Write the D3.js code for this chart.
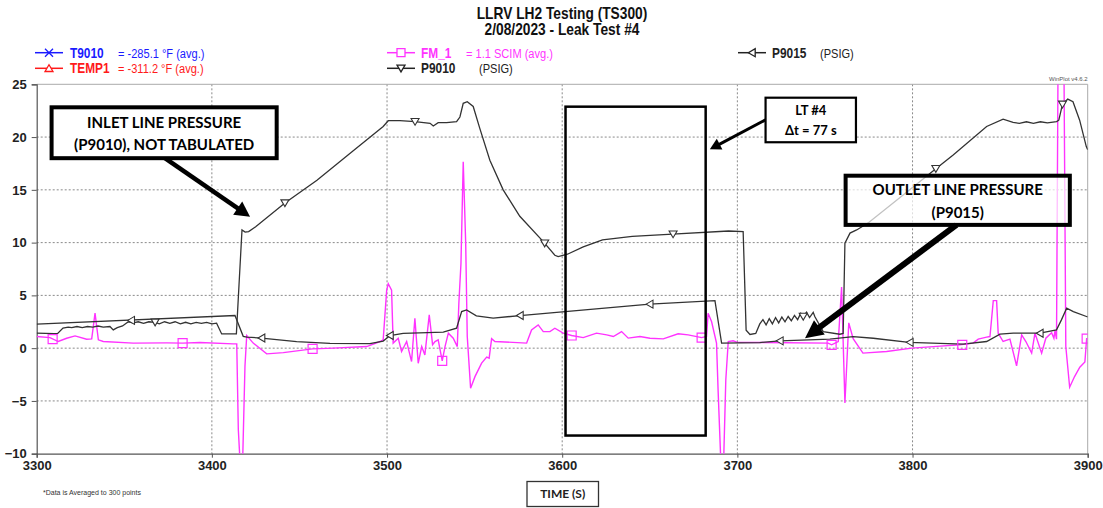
<!DOCTYPE html>
<html><head><meta charset="utf-8">
<script src="https://cdn.jsdelivr.net/npm/d3@7"></script>
<style>
body{margin:0;background:#fff;}
svg{display:block;}
.narrow{font-family:"Liberation Sans",Arial,sans-serif;}
.tick text{font-family:"Liberation Sans",Arial,sans-serif;font-weight:bold;font-size:13px;fill:#222;}
.box text{font-family:Lato,"Open Sans",sans-serif;font-weight:bold;}
</style></head>
<body>
<script>
// ---------- DATA ----------
const xTicks = [3300,3400,3500,3600,3700,3800,3900];
const yTicks = [-10,-5,0,5,10,15,20,25];

// P9010 inlet pressure [time s, psig]
const p9010 = [[3300,1.42],[3310,1.38],[3312,1.4],[3315,1.9],[3318,2.0],[3320,1.95],[3323,2.05],[3326,1.95],[3329,2.05],[3332,2.0],[3335,2.1],[3338,2.0],[3341.8,2.05],[3343.7,1.73],[3346,1.95],[3349,2.1],[3352.3,2.5],[3355,2.4],[3358,2.5],[3361,2.35],[3364,2.5],[3367.6,2.45],[3370,2.3],[3373,2.5],[3376,2.35],[3379,2.5],[3382,2.3],[3385,2.45],[3388,2.3],[3391,2.45],[3394,2.35],[3397,2.45],[3400,2.3],[3402.7,2.37],[3405.6,1.35],[3414,1.35],[3415.5,6.0],[3417.2,11.2],[3419,11.0],[3421,11.05],[3425,11.5],[3441.7,13.75],[3460,15.9],[3480,18.6],[3497.8,21.0],[3500.7,21.55],[3507.4,21.55],[3516,21.46],[3524.6,21.3],[3526.4,21.05],[3529.2,21.36],[3534,21.36],[3539.7,21.46],[3541.6,21.9],[3543.5,23.2],[3545.8,23.35],[3549.2,22.9],[3553,20.8],[3558.7,17.8],[3566.3,15.0],[3575.8,12.5],[3589.2,10.1],[3595.8,8.8],[3597.7,8.67],[3603,8.9],[3612,9.6],[3623,10.25],[3640,10.6],[3663,10.8],[3695,11.1],[3703.3,11.05],[3705,1.7],[3707.2,1.3],[3710.5,1.4],[3712.8,2.3],[3714.6,2.7],[3716.4,2.2],[3718.2,2.8],[3720,2.3],[3721.8,2.9],[3723.6,2.4],[3725.4,2.95],[3727.2,2.5],[3729,3.0],[3730.8,2.6],[3732.6,3.1],[3734.4,2.7],[3736.2,3.3],[3737.6,3.0],[3739.5,3.4],[3741.2,2.9],[3743.3,3.4],[3744.2,3.0],[3749,1.57],[3758.5,1.32],[3760.4,1.4],[3761.4,9.94],[3764.3,10.9],[3768.1,11.2],[3775,11.9],[3790,13.9],[3813.3,17.0],[3823.2,18.3],[3842.3,21.0],[3851.7,21.7],[3857.4,21.4],[3861,21.3],[3865,21.45],[3869,21.3],[3873,21.45],[3877,21.35],[3882.2,21.46],[3883.5,21.6],[3885.6,23.1],[3888.6,23.6],[3891.6,23.35],[3895.4,21.6],[3899.2,19.1],[3900,18.8]];
const p9010Markers = [[3367.6,2.45],[3441.7,13.75],[3516,21.46],[3590,9.94],[3663.3,10.8],[3737.6,3.0],[3813.3,17.0],[3885.6,23.1]];

// P9015 outlet pressure [time s, psig]
const p9015 = [[3300,2.27],[3413.2,3.09],[3417.9,1.12],[3420,1.05],[3428.4,0.96],[3448.4,0.62],[3467.4,0.45],[3490.2,0.42],[3497.8,0.67],[3501.7,1.2],[3509.2,1.4],[3532.1,1.52],[3539.7,1.89],[3542.6,3.47],[3545.4,3.63],[3551,3.06],[3560.6,2.84],[3575.9,3.09],[3650,4.17],[3687.2,4.51],[3691,0.48],[3712.8,0.53],[3724.3,0.69],[3752.8,0.85],[3766.1,1.1],[3777.6,0.94],[3798,0.55],[3828.9,0.38],[3842.3,0.63],[3849.9,1.33],[3857.5,1.42],[3872.7,1.42],[3882.2,1.73],[3885,2.68],[3888,3.79],[3891.8,3.47],[3899.3,3.0],[3900,2.95]];
const p9015Markers = [[3354,2.63],[3428.4,0.96],[3501.7,1.2],[3575.9,3.09],[3650,4.17],[3724.3,0.69],[3798.5,0.55],[3872.7,1.42]];

// FM_1 flow [time s, SCIM]
const fm1 = [[3300,1.1],[3307.6,1.0],[3312.3,0.63],[3317.1,0.94],[3321.9,1.16],[3328.5,0.85],[3331.4,0.88],[3333.3,3.32],[3335.2,0.79],[3338,0.63],[3355.1,0.48],[3374.2,0.5],[3383.3,0.48],[3393.2,0.54],[3412.2,0.41],[3414.2,0.41],[3415.1,-7.7],[3416,-10.5],[3417.6,-10.5],[3418.9,-1.7],[3419.9,1.2],[3423.6,0.48],[3431.3,-0.54],[3440.8,-0.42],[3457.5,-0.07],[3469.3,0.0],[3488.4,0.15],[3496,0.63],[3497.8,0.79],[3499.8,5.5],[3500.7,6.1],[3502.6,5.5],[3503.5,0.48],[3506.4,0.94],[3508.3,-0.32],[3511.2,0.63],[3514,-1.27],[3515.9,2.84],[3517.8,-1.43],[3519.8,0.15],[3521.6,-0.64],[3524.1,3.15],[3526,0.33],[3527.4,0.63],[3529.2,0.79],[3531.5,-1.2],[3533.1,0.15],[3535,1.42],[3537.8,0.94],[3540.1,0.15],[3541,4.26],[3542.2,8],[3543.5,17.67],[3544.9,10],[3545.8,1.1],[3547.7,-3.79],[3550.2,-2.7],[3554,-1.42],[3556.9,-0.85],[3558.3,-0.95],[3559.7,0.9],[3561.6,0.63],[3579.7,0.48],[3582.5,1.73],[3586.3,2.2],[3589.2,1.57],[3593,1.57],[3595.8,1.89],[3600.6,1.42],[3605.4,1.2],[3612,1.0],[3619.6,1.42],[3625.4,1.26],[3629.2,1.1],[3633.9,1.57],[3637.7,0.95],[3644.4,1.1],[3650.1,0.94],[3657.7,0.88],[3666.2,1.36],[3671.9,1.26],[3679.6,1.0],[3682.4,1.1],[3683.3,3.31],[3685.3,2.5],[3688.1,0.48],[3689,-4],[3690.5,-10.5],[3692.2,-10.5],[3693.4,-3],[3694.8,0.63],[3697.6,0.7],[3700,0.55],[3751.8,0.48],[3753.8,0.32],[3757.6,0.63],[3759.5,5.8],[3761.4,-5.2],[3763.6,2.4],[3766.1,0.9],[3771.7,-0.47],[3785.2,-0.32],[3799.6,0.0],[3811.8,0.15],[3827,0.32],[3834.6,0.48],[3837.5,0.85],[3842.3,1.04],[3844.2,1.1],[3846.1,4.5],[3848,4.5],[3848.9,1.42],[3851.7,0.63],[3855.6,0.85],[3859.4,-1.67],[3862.3,1.26],[3864.7,0.63],[3868,-0.47],[3869.9,1.42],[3873.7,-0.47],[3876.1,0.94],[3879.4,1.47],[3880.7,0.94],[3881.3,1.67],[3882.2,0.85],[3883.1,28],[3886.4,28],[3887.5,0.15],[3889.7,-3.7],[3892.5,-2.69],[3895.5,-1.8],[3898.4,-1.3],[3899.4,0.9],[3900,0.9]];
const fm1Markers = [[3309.1,0.85],[3383.3,0.48],[3457.5,-0.07],[3531.5,-1.2],[3605.4,1.2],[3679.6,1.0],[3753.8,0.32],[3828.4,0.32],[3899.4,0.9]];

const titleLines = ["LLRV LH2 Testing (TS300)", "2/08/2023 - Leak Test #4"];
const legendItems = [
  {name:"T9010", value:"= -285.1 °F (avg.)", color:"#1a1aff", marker:"x", col:0, row:0},
  {name:"TEMP1", value:"= -311.2 °F (avg.)", color:"#ff1a1a", marker:"up", col:0, row:1},
  {name:"FM_1", value:"= 1.1 SCIM (avg.)", color:"#ff33ff", marker:"square", col:1, row:0},
  {name:"P9010", value:"(PSIG)", color:"#222", marker:"down", col:1, row:1},
  {name:"P9015", value:"(PSIG)", color:"#222", marker:"left", col:2, row:0}
];
// annotation boxes in data units [t0, v0, t1, v1]
const inletBox = {x0:3308.5, y0:22.82, x1:3437, y1:18.0, lines:["INLET LINE PRESSURE","(P9010), NOT TABULATED"]};
const inletArrow = {from:[3373.2,18.0], to:[3421.8,12.46]};
const ltWindow = {x0:3601.9, y0:22.88, x1:3681.9, y1:-8.28};
const ltBox = {x0:3716.1, y0:23.73, x1:3767.7, y1:19.51, lines:["LT #4","Δt = 77 s"]};
const ltArrow = {from:[3716.7,21.69], to:[3684.3,18.84]};
const outletBox = {x0:3761.8, y0:16.34, x1:3889.8, y1:11.68, lines:["OUTLET LINE PRESSURE","(P9015)"]};
const outletArrow = {from:[3825.1,11.68], to:[3738.6,0.95]};

// ---------- CHART ----------
const W=1103,H=508;
const svg=d3.select("body").append("svg").attr("width",W).attr("height",H);
const L=36.7,R=1087.7,T=84.3,B=453.7;
const x=d3.scaleLinear().domain([3300,3900]).range([L,R]);
const y=d3.scaleLinear().domain([-10,25]).range([B,T]);

function ntext(g,tx,ty,str,size,weight,color,anchor,sx){
  return g.append("text").attr("transform",`translate(${tx},${ty}) scale(${sx||0.82},1)`)
    .attr("text-anchor",anchor||"start").attr("font-size",size).attr("font-weight",weight||"normal")
    .attr("fill",color).text(str);
}

// title
const tg=svg.append("g").attr("class","narrow");
titleLines.forEach((t,i)=>ntext(tg,562,19+i*16,t,16,"bold","#111","middle",0.86));

// grid
const grid=svg.append("g").attr("stroke","#8a8a8a").attr("stroke-dasharray","2,2").attr("stroke-width",1);
grid.selectAll(".gx").data(xTicks.slice(1,-1)).join("line")
  .attr("x1",d=>x(d)).attr("x2",d=>x(d)).attr("y1",T).attr("y2",B);
grid.selectAll(".gy").data(yTicks.slice(1,-1)).join("line")
  .attr("x1",L).attr("x2",R).attr("y1",d=>y(d)).attr("y2",d=>y(d));
// frame
svg.append("line").attr("x1",L).attr("x2",R).attr("y1",T).attr("y2",T).attr("stroke","#aaa");
svg.append("line").attr("x1",R).attr("x2",R).attr("y1",T).attr("y2",B).attr("stroke","#aaa");

// axes
const ax=svg.append("g").attr("transform",`translate(${L},0)`)
  .call(d3.axisLeft(y).tickValues(yTicks).tickSize(5).tickPadding(5).tickFormat(d3.format("d")));
const bx=svg.append("g").attr("transform",`translate(0,${B})`)
  .call(d3.axisBottom(x).tickValues(xTicks).tickSize(4).tickPadding(3).tickFormat(d3.format("d")));
[ax,bx].forEach(g=>{g.select(".domain").attr("stroke","#555").attr("stroke-width",1.2);g.selectAll(".tick line").attr("stroke","#555");});

// clip
svg.append("clipPath").attr("id","clip").append("rect").attr("x",L).attr("y",T).attr("width",R-L).attr("height",B-T);
const plot=svg.append("g").attr("clip-path","url(#clip)");
const line=d3.line().x(d=>x(d[0])).y(d=>y(d[1]));

// marker shapes
function markerPath(type,s){
  if(type==="down") return `M${-s},${-s*0.8}L${s},${-s*0.8}L0,${s*0.9}Z`;
  if(type==="up") return `M${-s},${s*0.8}L${s},${s*0.8}L0,${-s*0.9}Z`;
  if(type==="left") return `M${s*0.8},${-s}L${s*0.8},${s}L${-s*0.9},0Z`;
  if(type==="square") return `M${-s},${-s}h${2*s}v${2*s}h${-2*s}Z`;
  if(type==="x") return `M${-s},${-s}L${s},${s}M${-s},${s}L${s},${-s}`;
}

plot.append("path").datum(fm1).attr("d",line).attr("fill","none").attr("stroke","#ff33ff").attr("stroke-width",1.4);
plot.append("path").datum(p9015).attr("d",line).attr("fill","none").attr("stroke","#333").attr("stroke-width",1.3);
plot.append("path").datum(p9010).attr("d",line).attr("fill","none").attr("stroke","#333").attr("stroke-width",1.3);

plot.selectAll(".mf").data(fm1Markers).join("path").attr("transform",d=>`translate(${x(d[0])},${y(d[1])})`)
  .attr("d",markerPath("square",4.5)).attr("fill","none").attr("stroke","#ff33ff").attr("stroke-width",1.2);
plot.selectAll(".m10").data(p9010Markers).join("path").attr("transform",d=>`translate(${x(d[0])},${y(d[1])})`)
  .attr("d",markerPath("down",4)).attr("fill","#fff").attr("stroke","#333").attr("stroke-width",1.1);
plot.selectAll(".m15").data(p9015Markers).join("path").attr("transform",d=>`translate(${x(d[0])},${y(d[1])})`)
  .attr("d",markerPath("left",4)).attr("fill","#fff").attr("stroke","#333").attr("stroke-width",1.1);

// legend
const colX=[35,387,738], rowY=[52.7,68.3];
const nameX=[70,421,772];
const valX={"T9010":118,"TEMP1":118,"FM_1":466,"P9010":479,"P9015":820};
const lg=svg.append("g").attr("class","narrow");
legendItems.forEach(it=>{
  const x0=colX[it.col], yy=rowY[it.row];
  lg.append("line").attr("x1",x0).attr("x2",x0+28).attr("y1",yy).attr("y2",yy).attr("stroke",it.color).attr("stroke-width",1.5);
  lg.append("path").attr("transform",`translate(${x0+14},${yy})`).attr("d",markerPath(it.marker,4))
    .attr("fill",it.marker==="x"?"none":"#fff").attr("stroke",it.color).attr("stroke-width",1.3);
  ntext(lg,nameX[it.col],yy+5,it.name,14.5,"bold",it.color);
  ntext(lg,valX[it.name],yy+5,it.value,13.5,"normal",it.color);
});

// winplot tag
svg.append("text").attr("x",R).attr("y",81).attr("text-anchor","end").attr("font-size",6)
  .attr("font-family","Liberation Sans, sans-serif").attr("fill","#555").text("WinPlot v4.6.2");
// footnote
svg.append("text").attr("x",43).attr("y",495).attr("font-size",7)
  .attr("font-family","Liberation Sans, sans-serif").attr("fill","#333").text("*Data is Averaged to 300 points");

// x axis title box
const tb=svg.append("g").attr("class","box");
tb.append("rect").attr("x",527).attr("y",481.5).attr("width",71.5).attr("height",25).attr("fill","#fff").attr("stroke","#333").attr("stroke-width",1.3);
tb.append("text").attr("x",562.7).attr("y",498).attr("text-anchor","middle").attr("font-size",12).attr("fill","#222").text("TIME (S)");

// annotations
function arrow(a,width,headLen,headHalf){
  const [x1,y1]=[x(a.from[0]),y(a.from[1])],[x2,y2]=[x(a.to[0]),y(a.to[1])];
  const dx=x2-x1,dy=y2-y1,len=Math.hypot(dx,dy),ux=dx/len,uy=dy/len;
  const bxp=x2-ux*headLen,byp=y2-uy*headLen;
  svg.append("line").attr("x1",x1).attr("y1",y1).attr("x2",bxp+ux*2).attr("y2",byp+uy*2)
    .attr("stroke","#000").attr("stroke-width",width);
  svg.append("path").attr("d",`M${x2},${y2}L${bxp-uy*headHalf},${byp+ux*headHalf}L${bxp+uy*headHalf},${byp-ux*headHalf}Z`).attr("fill","#000");
}
function box(b,sw,fs,ys,fillOp){
  const g=svg.append("g").attr("class","box");
  g.append("rect").attr("x",x(b.x0)).attr("y",y(b.y0)).attr("width",x(b.x1)-x(b.x0)).attr("height",y(b.y1)-y(b.y0))
    .attr("fill","#fff").attr("fill-opacity",fillOp).attr("stroke","#000").attr("stroke-width",sw);
  const cx=(x(b.x0)+x(b.x1))/2;
  g.selectAll("text").data(b.lines).join("text").attr("x",cx).attr("y",(d,i)=>ys[i])
    .attr("text-anchor","middle").attr("font-size",fs).attr("fill","#000").text(d=>d);
}
svg.append("rect").attr("x",x(ltWindow.x0)).attr("y",y(ltWindow.y0)).attr("width",x(ltWindow.x1)-x(ltWindow.x0))
  .attr("height",y(ltWindow.y1)-y(ltWindow.y0)).attr("fill","none").attr("stroke","#000").attr("stroke-width",2.5);

arrow(inletArrow,4.5,15,8);
box(inletBox,4,15,[128,149.5],1);
arrow(ltArrow,3,11,6);
box(ltBox,2.2,13,[115,135],1);
arrow(outletArrow,6,18,9);
box(outletBox,4,15,[195,217.5],0.7);
</script>
</body></html>
